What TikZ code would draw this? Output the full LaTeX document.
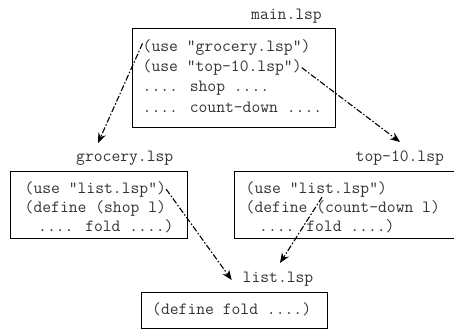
\documentclass[tikz,border=0pt]{standalone}
\usepackage{fontspec}
\usetikzlibrary{arrows.meta,calc}
\begin{document}
\begin{tikzpicture}[x=1pt,y=-1pt,
  code/.style={font=\ttfamily\fontsize{17.14}{20}\selectfont, text=black!80, inner sep=0pt, anchor=base west},
  filebox/.style={draw=black, line width=1.4pt, inner sep=0pt, anchor=north west},
  dep/.style={line width=1.1pt, dash pattern=on 6pt off 2pt on 1.5pt off 2pt, -{Stealth[length=10pt,width=8pt]}}]
\useasboundingbox (0,0) rectangle (454,329);
% boxes
\node[filebox, minimum width=203pt, minimum height=99pt] (mainbox) at (132,28) {};
\node[filebox, minimum width=177pt, minimum height=67.5pt] (grocbox) at (10,170.5) {};
\node[filebox, minimum width=236pt, minimum height=67.5pt] (topbox) at (234,170.5) {};
\node[filebox, minimum width=186pt, minimum height=35.5pt] (listbox) at (141,292) {};
% labels
\node[code] (mainl) at (251,19.3) {main.lsp};
\node[code] (grocl) at (76,161.7) {grocery.lsp};
\node[code] (topl) at (355.5,161.7) {top-10.lsp};
\node[code] (listl) at (242.5,282.3) {list.lsp};
% main.lsp
\node[code] (main1) at (142.5,51.5) {(use "grocery.lsp")};
\node[code] (main2) at (142.5,71.7) {(use "top-10.lsp")};
\node[code] (main3) at (142.5,91.9) {.... shop ....};
\node[code] (main4) at (142.5,112.1) {.... count-down ....};
% grocery.lsp
\node[code] (groc1) at (24.5,193.2) {(use "list.lsp")};
\node[code] (groc2) at (24.5,212.5) {(define (shop l)};
\node[code] (groc3) at (38,231.8) {.... fold ....)};
% top-10.lsp
\node[code] (top1) at (245.5,193.2) {(use "list.lsp")};
\node[code] (top2) at (245.5,212.5) {(define (count-down l)};
\node[code] (top3) at (259,231.8) {.... fold ....)};
% list.lsp
\node[code] (list1) at (152,314) {(define fold ....)};
% arrow tips
\coordinate (t1) at (98,143);
\coordinate (t2) at (400,142);
\coordinate (t3) at (231.7,280);
\coordinate (t4) at (280,263);
% connectors
\draw[dep] ($(main1.west)!0.5!(main1.north west)$) -- (t1);
\draw[dep] (main2.east) -- (t2);
\draw[dep] (groc1.east) -- (t3);
\draw[dep] ($(top1.south west)!0.54!(top1.south east)$) -- (t4);
\end{tikzpicture}
\end{document}
